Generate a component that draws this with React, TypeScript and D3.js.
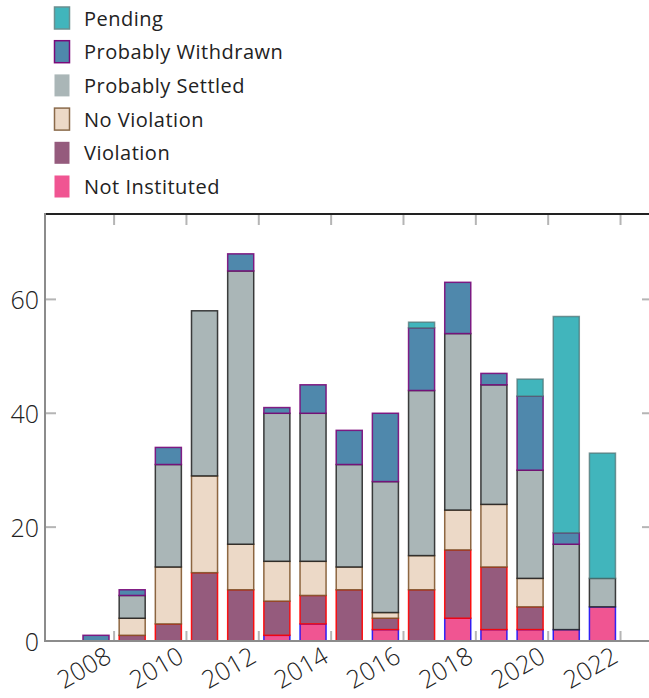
import React from "react";
import * as d3 from "d3";

// Case outcomes per year, stacked bottom to top
const years = [2008, 2009, 2010, 2011, 2012, 2013, 2014, 2015, 2016, 2017, 2018, 2019, 2020, 2021, 2022];
const notInstituted = [0, 0, 0, 0, 0, 1, 3, 0, 2, 0, 4, 2, 2, 2, 6];
const violation = [0, 1, 3, 12, 9, 6, 5, 9, 2, 9, 12, 11, 4, 0, 0];
const noViolation = [0, 3, 10, 17, 8, 7, 6, 4, 1, 6, 7, 11, 5, 0, 0];
const probablySettled = [0, 4, 18, 29, 48, 26, 26, 18, 23, 29, 31, 21, 19, 15, 5];
const probablyWithdrawn = [1, 1, 3, 0, 3, 1, 5, 6, 12, 11, 9, 2, 13, 2, 0];
const pending = [0, 0, 0, 0, 0, 0, 0, 0, 0, 1, 0, 0, 3, 38, 22];

const yTicks = [0, 20, 40, 60];
const xTickLabels = ["2008", "2010", "2012", "2014", "2016", "2018", "2020", "2022"];

type Series = {
  name: string;
  values: number[];
  fill: string;
  stroke: string;
  strokeOpacity: number;
  legendStroke: string | null;
};

const series: Series[] = [
  { name: "Not Instituted", values: notInstituted, fill: "#f05592", stroke: "#0000ff", strokeOpacity: 0.8, legendStroke: null },
  { name: "Violation", values: violation, fill: "#955b7d", stroke: "#ff0000", strokeOpacity: 0.9, legendStroke: null },
  { name: "No Violation", values: noViolation, fill: "#ecd9c7", stroke: "#7a4f24", strokeOpacity: 0.85, legendStroke: "#8a6a4a" },
  { name: "Probably Settled", values: probablySettled, fill: "#aab6b7", stroke: "#1e1e1e", strokeOpacity: 0.85, legendStroke: null },
  { name: "Probably Withdrawn", values: probablyWithdrawn, fill: "#4f88ac", stroke: "#7a0a7a", strokeOpacity: 0.9, legendStroke: "#7a0a7a" },
  { name: "Pending", values: pending, fill: "#41b5bc", stroke: "#4d6f70", strokeOpacity: 0.7, legendStroke: "#6a8f90" },
];

const W = 649;
const H = 698;
const FONT = "'Open Sans', Lato, sans-serif";

export default function App() {
  const left = 45;
  const right = 652;
  const top = 214;
  const bottom = 641;

  const x = d3.scaleLinear().domain([2006.59, 2023.37]).range([left, right]);
  const y = d3.scaleLinear().domain([0, 75]).range([bottom, top]);
  const barW = x(2008.72) - x(2008);

  const rows = years.map((yr, i) => {
    const r: Record<string, number> = { year: yr };
    series.forEach((s) => (r[s.name] = s.values[i]));
    return r;
  });
  const stack = d3.stack<Record<string, number>>().keys(series.map((s) => s.name));
  const layers = stack(rows);

  const tickXs = xTickLabels.map((l) => +l + 0.5);

  return (
    <svg width={W} height={H} style={{ display: "block", position: "absolute", left: 0, top: 0 }}>
      <rect width={W} height={H} fill="#ffffff" />

      {/* stacked bars */}
      {layers.map((layer, li) => {
        const s = series[li];
        return (
          <g key={s.name}>
            {layer.map((d, i) => {
              const v = d[1] - d[0];
              if (v <= 0) return null;
              const yr = years[i];
              return (
                <rect
                  key={yr}
                  x={x(yr) - barW / 2}
                  y={y(d[1])}
                  width={barW}
                  height={y(d[0]) - y(d[1])}
                  fill={s.fill}
                  stroke={s.stroke}
                  strokeOpacity={s.strokeOpacity}
                  strokeWidth={1.5}
                />
              );
            })}
          </g>
        );
      })}

      {/* ticks on all four sides */}
      {tickXs.map((t) => (
        <g key={"xt" + t}>
          <line x1={x(t)} x2={x(t)} y1={bottom} y2={bottom - 10} stroke="#b5b5b5" strokeWidth={2} />
          <line x1={x(t)} x2={x(t)} y1={top} y2={top + 11} stroke="#b5b5b5" strokeWidth={2} />
        </g>
      ))}
      {yTicks.map((t) => (
        <g key={"yt" + t}>
          <line x1={left} x2={left + 11} y1={y(t)} y2={y(t)} stroke="#b5b5b5" strokeWidth={2} />
          <line x1={right - 10} x2={right} y1={y(t)} y2={y(t)} stroke="#b5b5b5" strokeWidth={2} />
        </g>
      ))}

      {/* frame */}
      <line x1={left} x2={right} y1={top} y2={top} stroke="#222222" strokeWidth={2} />
      <line x1={left} x2={left} y1={top - 1} y2={bottom + 1} stroke="#8c8c8c" strokeWidth={2} />
      <line x1={left} x2={right} y1={bottom} y2={bottom} stroke="#8c8c8c" strokeWidth={2} />

      {/* y tick labels */}
      {yTicks.map((t) => (
        <text
          key={"yl" + t}
          x={39}
          y={y(t)}
          textAnchor="end"
          dominantBaseline="central"
          fontFamily={FONT}
          fontSize={25}
          fontWeight={300}
          fill="#222222"
        >
          {t}
        </text>
      ))}

      {/* x tick labels, rotated */}
      {xTickLabels.map((l, i) => (
        <text
          key={"xl" + l}
          transform={`translate(${x(tickXs[i]) - 1},${bottom + 20}) rotate(-30)`}
          textAnchor="end"
          fontFamily={FONT}
          fontSize={25}
          fontWeight={300}
          fill="#222222"
        >
          {l}
        </text>
      ))}

      {/* legend */}
      {[...series].reverse().map((s, i) => {
        const cy = 18 + i * 33.7;
        return (
          <g key={"lg" + s.name}>
            <rect
              x={54.5}
              y={cy - 11}
              width={15}
              height={22}
              fill={s.fill}
              stroke={s.legendStroke ?? "none"}
              strokeWidth={1.5}
            />
            <text
              x={84}
              y={cy}
              dominantBaseline="central"
              fontFamily={FONT}
              fontSize={20}
              letterSpacing={0.5}
              fill="#222222"
            >
              {s.name}
            </text>
          </g>
        );
      })}
    </svg>
  );
}
